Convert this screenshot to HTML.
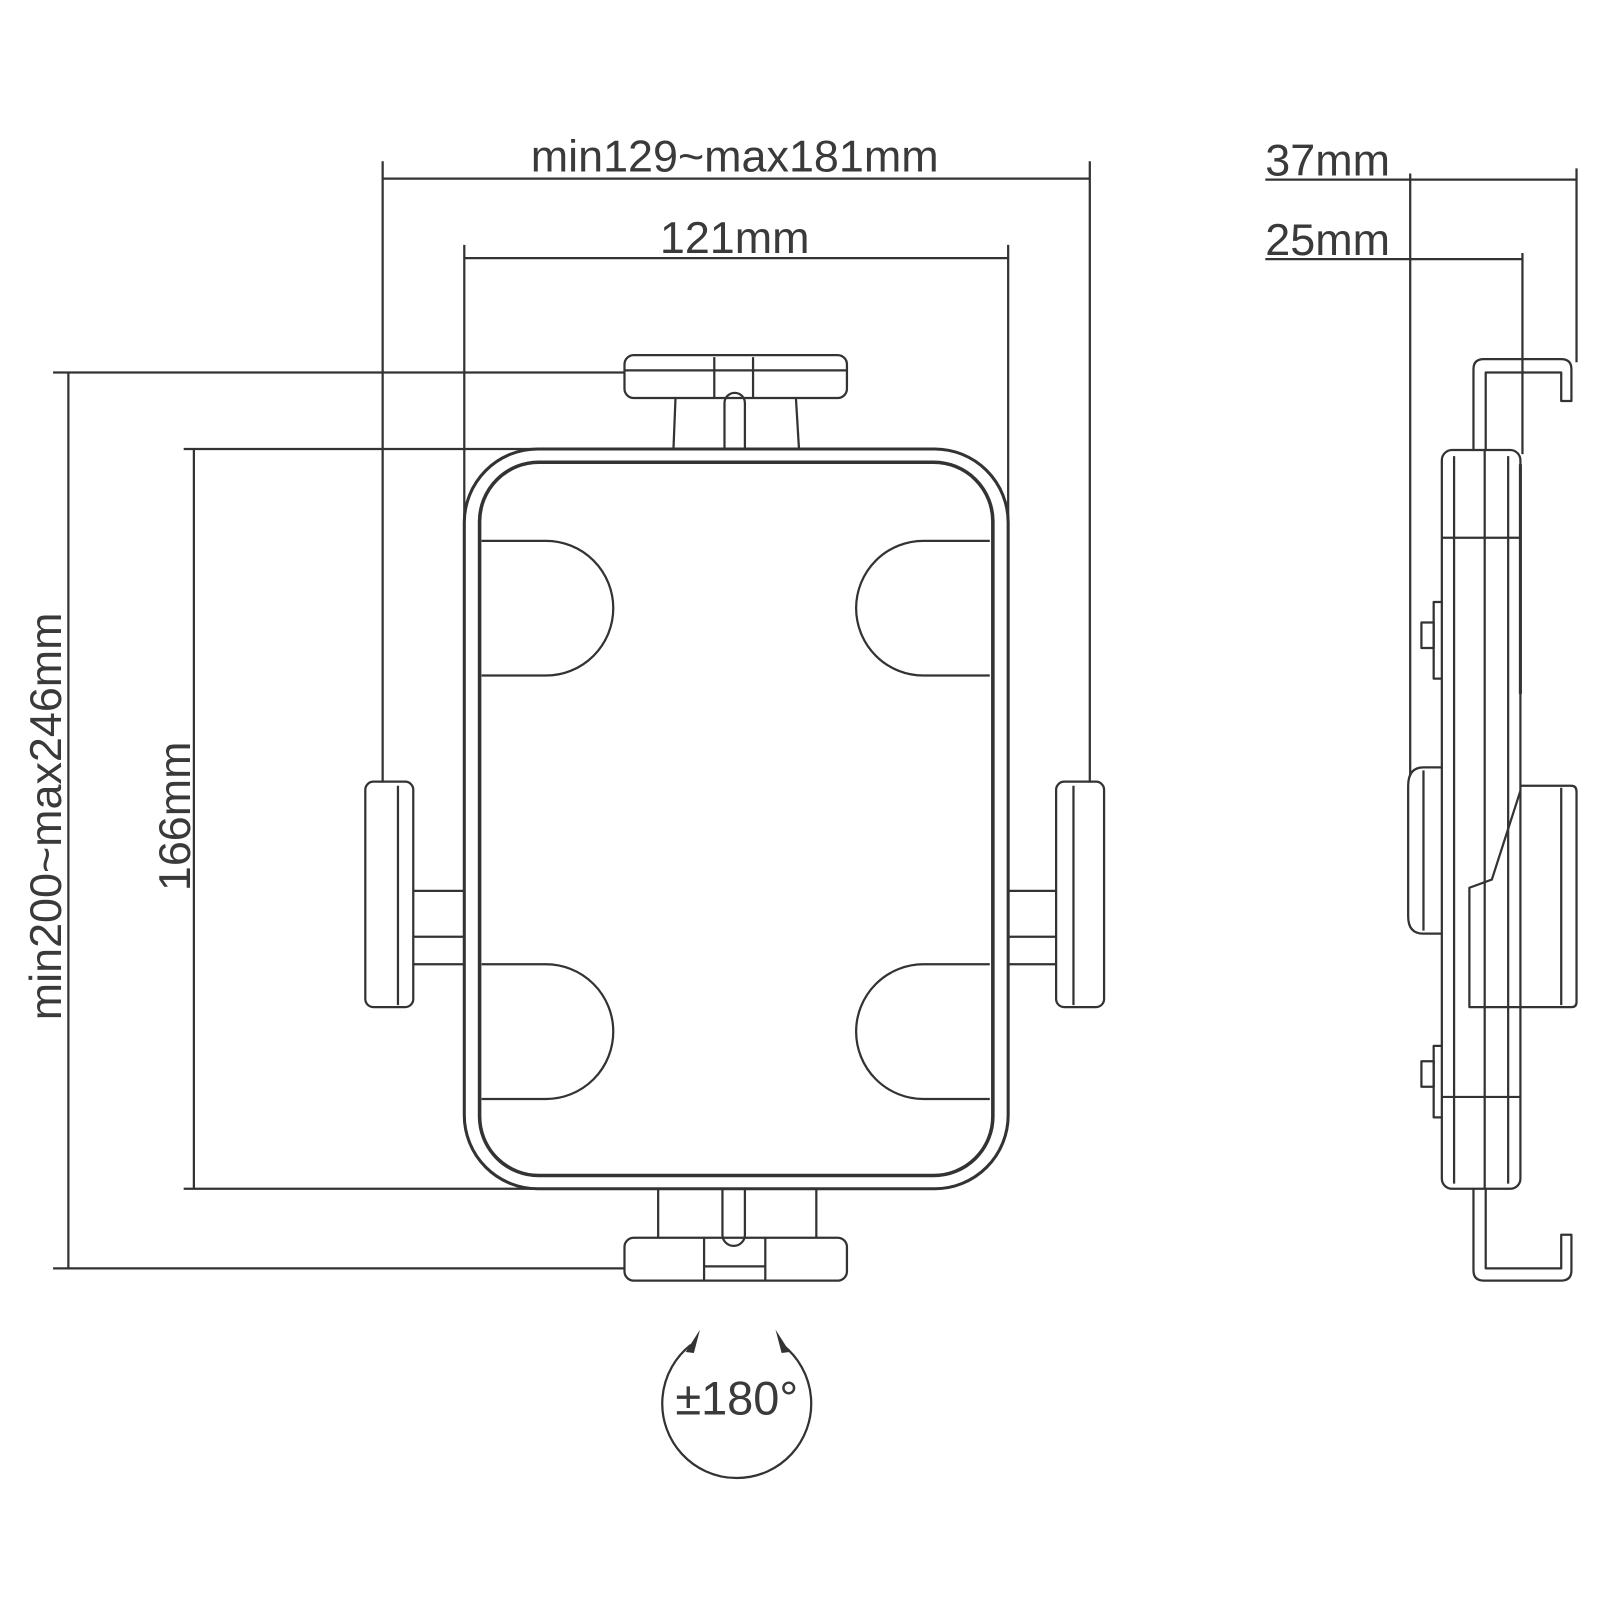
<!DOCTYPE html>
<html><head><meta charset="utf-8"><style>
html,body{margin:0;padding:0;background:#fff;}
svg{display:block;}
text{font-family:"Liberation Sans","DejaVu Sans",sans-serif;fill:#3a3a3a;}
</style></head><body>
<svg width="1600" height="1600" viewBox="0 0 1568 1568" xmlns="http://www.w3.org/2000/svg">
<g fill="none" stroke="#333" stroke-width="2.2" stroke-linejoin="round">
<!-- top dims -->
<line x1="375" y1="175" x2="1068" y2="175"/>
<line x1="375" y1="158" x2="375" y2="767"/>
<line x1="1068" y1="158" x2="1068" y2="767"/>
<line x1="455" y1="253" x2="988" y2="253"/>
<line x1="455" y1="240" x2="455" y2="520"/>
<line x1="988" y1="240" x2="988" y2="512"/>
<!-- left dims -->
<line x1="52" y1="365" x2="612" y2="365"/>
<line x1="52" y1="1243" x2="612" y2="1243"/>
<line x1="67" y1="365" x2="67" y2="1243"/>
<line x1="180" y1="440" x2="525" y2="440"/>
<line x1="180" y1="1165" x2="525" y2="1165"/>
<line x1="190" y1="440" x2="190" y2="1165"/>
<!-- main body -->
<rect x="455" y="440" width="533" height="725" rx="72" stroke-width="3"/>
<rect x="470" y="453" width="503" height="699" rx="58" stroke-width="3.5"/>
<!-- pads -->
<path d="M472,530 H535 A66,66 0 0 1 535,662 H472"/>
<path d="M970,530 H905 A66,66 0 0 0 905,662 H970"/>
<path d="M472,945 H535 A66,66 0 0 1 535,1077 H472"/>
<path d="M970,945 H905 A66,66 0 0 0 905,1077 H970"/>
<!-- top clamp -->
<rect x="612" y="348" width="218" height="42" rx="9"/>
<line x1="612" y1="363" x2="830" y2="363"/>
<line x1="700" y1="350" x2="700" y2="390"/><line x1="738" y1="350" x2="738" y2="390"/>
<line x1="662" y1="390" x2="660" y2="440"/><line x1="780" y1="390" x2="783" y2="440"/>
<path d="M710,440 V395 A10,10 0 0 1 730,395 V440"/>
<!-- bottom clamp -->
<rect x="612" y="1213" width="218" height="42" rx="9"/>
<line x1="690" y1="1213" x2="690" y2="1255"/><line x1="750" y1="1213" x2="750" y2="1255"/>
<line x1="690" y1="1241" x2="750" y2="1241"/>
<line x1="645" y1="1165" x2="645" y2="1213"/><line x1="800" y1="1165" x2="800" y2="1213"/>
<path d="M708,1165 V1210 A11,11 0 0 0 730,1210 V1165"/>
<!-- left side clamp -->
<rect x="358" y="766" width="47" height="221" rx="8"/>
<line x1="390" y1="770" x2="390" y2="985"/>
<line x1="405" y1="873" x2="455" y2="873"/>
<line x1="405" y1="918" x2="455" y2="918"/>
<line x1="405" y1="945" x2="455" y2="945"/>
<!-- right side clamp -->
<rect x="1035" y="766" width="47" height="221" rx="8"/>
<line x1="1052" y1="770" x2="1052" y2="985"/>
<line x1="988" y1="873" x2="1035" y2="873"/>
<line x1="988" y1="918" x2="1035" y2="918"/>
<line x1="988" y1="945" x2="1035" y2="945"/>
<!-- rotation -->
<path d="M677,1318 A73,73 0 1 0 767,1318"/>
<!-- side view dims -->
<line x1="1240" y1="176" x2="1545" y2="176"/>
<line x1="1382" y1="170" x2="1382" y2="760"/>
<line x1="1545" y1="165" x2="1545" y2="355"/>
<line x1="1240" y1="254" x2="1492" y2="254"/>
<line x1="1492" y1="248" x2="1492" y2="445"/>
<!-- top hook -->
<path d="M1444,440 V362 Q1444,352 1454,352 H1530 Q1540,352 1540,362 V393 H1530 V365 H1456 V440"/>
<!-- bottom hook -->
<path d="M1444,1165 V1245 Q1444,1255 1454,1255 H1530 Q1540,1255 1540,1245 V1210 H1530 V1243 H1456 V1165"/>
<!-- body -->
<rect x="1413" y="441" width="77" height="724" rx="10"/>
<line x1="1425" y1="447" x2="1425" y2="1160"/>
<line x1="1455" y1="441" x2="1455" y2="1165"/>
<line x1="1478" y1="447" x2="1478" y2="1160"/>
<line x1="1413" y1="527" x2="1490" y2="527"/>
<line x1="1413" y1="1075" x2="1490" y2="1075"/>
<line x1="1490" y1="455" x2="1490" y2="680" stroke-width="3"/>
<!-- bolts -->
<path d="M1413,590 H1405 V665 H1413"/><rect x="1393" y="610" width="12" height="25"/>
<path d="M1413,1025 H1405 V1095 H1413"/><rect x="1393" y="1040" width="12" height="25"/>
<!-- left pad -->
<path d="M1413,752 H1395 Q1380,752 1380,770 V898 Q1380,915 1395,915 H1413"/>
<line x1="1395" y1="755" x2="1395" y2="912"/>
<!-- right clamp -->
<path d="M1490,770 H1540 Q1545,770 1545,776 V982 Q1545,987 1540,987 H1440 V870 L1462,862 L1490,775"/>
<line x1="1530" y1="772" x2="1530" y2="985"/>
</g>
<g fill="#333">
<polygon points="686,1303 672,1325 680,1326"/>
<polygon points="760,1303 774,1325 766,1326"/>
</g>
<text x="720" y="168" font-size="44" text-anchor="middle">min129~max181mm</text>
<text x="720" y="248" font-size="44" text-anchor="middle">121mm</text>
<text x="1240" y="172" font-size="44">37mm</text>
<text x="1240" y="250" font-size="44">25mm</text>
<text transform="translate(60,800) rotate(-90)" font-size="44" text-anchor="middle">min200~max246mm</text>
<text transform="translate(186,800) rotate(-90)" font-size="44" text-anchor="middle">166mm</text>
<text x="722" y="1386" font-size="46" text-anchor="middle">±180°</text>
</svg>
</body></html>
